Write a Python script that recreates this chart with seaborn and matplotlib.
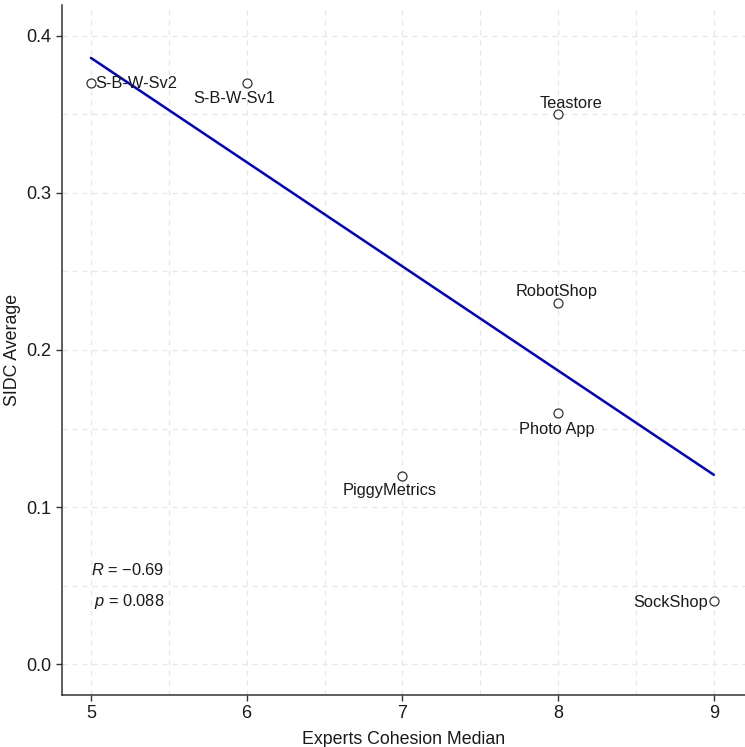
import seaborn as sns
import pandas as pd
import matplotlib.pyplot as plt
from matplotlib.ticker import MultipleLocator

# values
systems = ["S-B-W-Sv2", "S-B-W-Sv1", "Teastore", "RobotShop", "Photo App", "PiggyMetrics", "SockShop"]
cohesion_median = [5, 6, 8, 8, 8, 7, 9]
sidc_average = [0.37, 0.37, 0.35, 0.23, 0.16, 0.12, 0.04]

# label offsets in points (dx, dy, ha) per system
label_pos = {
    "S-B-W-Sv2": (3, 0, "left"),
    "S-B-W-Sv1": (-9, -11, "center"),
    "Teastore": (9, 8, "center"),
    "RobotShop": (-1, 8, "center"),
    "Photo App": (-1, -12, "center"),
    "PiggyMetrics": (-9, -11, "center"),
    "SockShop": (-4, -1, "right"),
}


def main():
    df = pd.DataFrame({"system": systems, "x": cohesion_median, "y": sidc_average})

    sns.set_theme(style="white")
    plt.rcParams["font.family"] = ["Liberation Sans", "DejaVu Sans"]
    plt.rcParams["mathtext.fontset"] = "custom"
    plt.rcParams["mathtext.it"] = "Liberation Sans:italic"
    plt.rcParams["mathtext.rm"] = "Liberation Sans"

    fig = plt.figure(figsize=(7.45, 7.47), dpi=100)
    ax = fig.add_axes([62 / 745, 52 / 747, 683 / 745, 690 / 747])

    sns.regplot(data=df, x="x", y="y", ci=None, ax=ax,
                scatter_kws=dict(s=42, facecolors="white", edgecolors="black", linewidths=0.9, zorder=3),
                line_kws=dict(color="#0000CD", lw=1.8, zorder=2))

    for name, x, y in zip(systems, cohesion_median, sidc_average):
        dx, dy, ha = label_pos[name]
        ax.annotate(name, (x, y), xytext=(dx, dy), textcoords="offset points",
                    ha=ha, va="center", fontsize=11.8, color="#1a1a1a")

    ax.text(5, 0.0599, r"$R$ = −0.69", fontsize=11.8, color="#1a1a1a", va="center")
    ax.text(5.02, 0.0401, r"$p$ = 0.088", fontsize=11.8, color="#1a1a1a", va="center")

    ax.set_xlim(4.814, 9.2)
    ax.set_ylim(-0.0197, 0.4197)
    ax.xaxis.set_major_locator(MultipleLocator(1))
    ax.xaxis.set_minor_locator(MultipleLocator(0.5))
    ax.yaxis.set_major_locator(MultipleLocator(0.1))
    ax.yaxis.set_minor_locator(MultipleLocator(0.05))
    ax.set_yticklabels([f"{v:.1f}" for v in ax.get_yticks()])

    ax.grid(True, which="both", color="#e6e6e6", linestyle=(0, (4, 4)), linewidth=0.9)
    ax.set_axisbelow(True)
    for side in ["top", "right"]:
        ax.spines[side].set_visible(False)
    for side in ["left", "bottom"]:
        ax.spines[side].set_color("#333333")
        ax.spines[side].set_linewidth(1.1)
    ax.tick_params(which="major", direction="out", length=4, width=1, color="#333333",
                   labelsize=13, labelcolor="#1a1a1a", left=True, bottom=True)
    ax.tick_params(which="minor", length=0)

    ax.set_xlabel("Experts Cohesion Median", fontsize=12.8, color="#1a1a1a", labelpad=6)
    ax.set_ylabel("SIDC Average", fontsize=12.8, color="#1a1a1a", labelpad=4)

    fig.savefig("out.png", dpi=100)


if __name__ == "__main__":
    main()
